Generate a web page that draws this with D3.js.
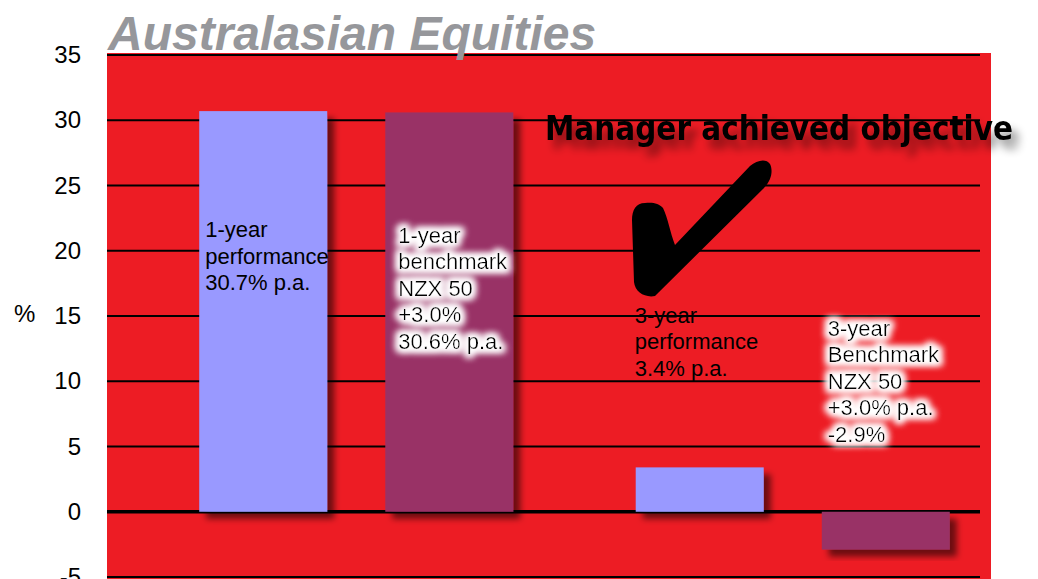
<!DOCTYPE html>
<html>
<head>
<meta charset="utf-8">
<script src="https://cdn.jsdelivr.net/npm/d3@7"></script>
<style>
  body { margin: 0; background: #fff; }
  text { font-family: "Liberation Sans", Arial, sans-serif; }
</style>
</head>
<body>
<div id="chart"></div>
<script>
// Chart values
var periods = ["1-year", "3-year"];
var seriesNames = ["performance", "benchmark"];
var performance = [30.7, 3.4];
var benchmark = [30.6, -2.9];
var yTicks = [-5, 0, 5, 10, 15, 20, 25, 30, 35];
var barLabels = [
  ["1-year", "performance", "30.7% p.a."],
  ["1-year", "benchmark", "NZX 50", "+3.0%", "30.6% p.a."],
  ["3-year", "performance", "3.4% p.a."],
  ["3-year", "Benchmark", "NZX 50", "+3.0% p.a.", "-2.9%"]
];
var titleText = "Australasian Equities";
var noteText = "Manager achieved objective";

var svgWidth = 1038;
var svgHeight = 579;

var margin = { top: 55, right: 58, bottom: 2, left: 107 };
var width = svgWidth - margin.left - margin.right;
var height = svgHeight - margin.top - margin.bottom;

var colors = { performance: "#9999ff", benchmark: "#993366" };

var svg = d3.select("#chart")
  .append("svg")
  .attr("width", svgWidth)
  .attr("height", svgHeight);

// filters: bar shadow, note shadow, white glow behind some labels
var defs = svg.append("defs");
var shadow = defs.append("filter").attr("id", "barShadow")
  .attr("x", "-20%").attr("y", "-20%").attr("width", "150%").attr("height", "150%");
shadow.append("feDropShadow")
  .attr("dx", 7).attr("dy", 7).attr("stdDeviation", 3)
  .attr("flood-color", "#000").attr("flood-opacity", 0.55);

var noteShadow = defs.append("filter").attr("id", "noteShadow")
  .attr("x", "-10%").attr("y", "-40%").attr("width", "130%").attr("height", "200%");
noteShadow.append("feDropShadow")
  .attr("dx", 7).attr("dy", 9).attr("stdDeviation", 4)
  .attr("flood-color", "#000").attr("flood-opacity", 0.45);

var halo = defs.append("filter").attr("id", "halo")
  .attr("x", "-20%").attr("y", "-20%").attr("width", "140%").attr("height", "140%");
halo.append("feMorphology").attr("in", "SourceAlpha").attr("operator", "dilate").attr("radius", 3).attr("result", "d");
halo.append("feGaussianBlur").attr("in", "d").attr("stdDeviation", 3.5).attr("result", "b");
halo.append("feFlood").attr("flood-color", "#fff").attr("flood-opacity", 1);
halo.append("feComposite").attr("in2", "b").attr("operator", "in").attr("result", "h");
var hm = halo.append("feMerge");
hm.append("feMergeNode").attr("in", "h");
hm.append("feMergeNode").attr("in", "h");
hm.append("feMergeNode").attr("in", "SourceGraphic");

var chartGroup = svg.append("g")
  .attr("transform", `translate(${margin.left}, ${margin.top})`);

// scales
var yScale = d3.scaleLinear()
  .domain([-5, 35])
  .range([height, 0]);

var x0 = d3.scaleBand()
  .domain(periods)
  .range([31, 904]);

var x1 = d3.scaleBand()
  .domain(seriesNames)
  .range([0, x0.bandwidth()])
  .paddingInner(0.312)
  .paddingOuter(0.329);

var barData = [];
periods.forEach(function (p, i) {
  barData.push({ period: p, series: "performance", value: performance[i] });
  barData.push({ period: p, series: "benchmark", value: benchmark[i] });
});
barData.forEach(function (d, i) { d.lines = barLabels[i]; });

// red plot background
chartGroup.append("rect")
  .attr("x", 0)
  .attr("y", -2)
  .attr("width", width + 11)
  .attr("height", height + 4)
  .attr("fill", "#ed1c24");

// gridlines
chartGroup.selectAll(".grid")
  .data(yTicks)
  .enter()
  .append("line")
  .attr("x1", 0)
  .attr("x2", width)
  .attr("y1", d => yScale(d))
  .attr("y2", d => yScale(d))
  .attr("stroke", "#000")
  .attr("stroke-width", d => d === 0 ? 3.5 : 2);

// bars
chartGroup.selectAll(".bar")
  .data(barData)
  .enter()
  .append("rect")
  .attr("x", d => x0(d.period) + x1(d.series))
  .attr("y", d => yScale(Math.max(0, d.value)))
  .attr("width", x1.bandwidth())
  .attr("height", d => Math.abs(yScale(d.value) - yScale(0)))
  .attr("fill", d => colors[d.series])
  .attr("filter", "url(#barShadow)");

// bar labels (first baseline given in axis units)
var labelTop = [21.05, 20.6, 14.5, 13.5];
var labelDx = [6, 13, -1, 6];
var lineH = 26.5;
barData.forEach(function (d, i) {
  var t = chartGroup.append("text")
    .attr("x", x0(d.period) + x1(d.series) + labelDx[i])
    .attr("y", yScale(labelTop[i]))
    .style("font-size", "22px")
    .style("fill", "#000");
  if (d.series === "benchmark") t.attr("filter", "url(#halo)");
  t.selectAll("tspan")
    .data(d.lines)
    .enter()
    .append("tspan")
    .attr("x", x0(d.period) + x1(d.series) + labelDx[i])
    .attr("dy", (l, j) => j === 0 ? 0 : lineH)
    .text(l => l);
});

// y axis labels
var leftAxis = d3.axisLeft(yScale)
  .tickValues(yTicks)
  .tickSize(0)
  .tickPadding(26)
  .tickFormat(d => String(d));

var yAxis = chartGroup.append("g").call(leftAxis);
yAxis.select(".domain").remove();
yAxis.selectAll("text")
  .style("font-family", "'Liberation Sans', Arial, sans-serif")
  .style("font-size", "24px")
  .attr("fill", "#000");

svg.append("text")
  .attr("x", 14)
  .attr("y", 322)
  .style("font-size", "24px")
  .text("%");

// title
svg.append("text")
  .attr("x", 108)
  .attr("y", 50)
  .style("font-size", "48px")
  .style("font-weight", "bold")
  .style("font-style", "italic")
  .style("fill", "#96979b")
  .text(titleText);

// check mark annotation
svg.append("path")
  .attr("d", "M645,203 C636,203 632,210 632,220 L634,282 C635,292 645,298 655,296 L764,188 " +
    "C772,180 773,170 770,164 C766,158 757,160 750,166 L675,245 C670,232 668,218 663,208 " +
    "C659,203 652,202 645,203 Z")
  .attr("fill", "#000");

svg.append("text")
  .attr("x", 545)
  .attr("y", 140)
  .attr("textLength", 468)
  .attr("lengthAdjust", "spacingAndGlyphs")
  .style("font-family", "'Comic Sans MS', 'DejaVu Sans', sans-serif")
  .style("font-size", "33px")
  .style("font-weight", "bold")
  .attr("filter", "url(#noteShadow)")
  .text(noteText);
</script>
</body>
</html>
